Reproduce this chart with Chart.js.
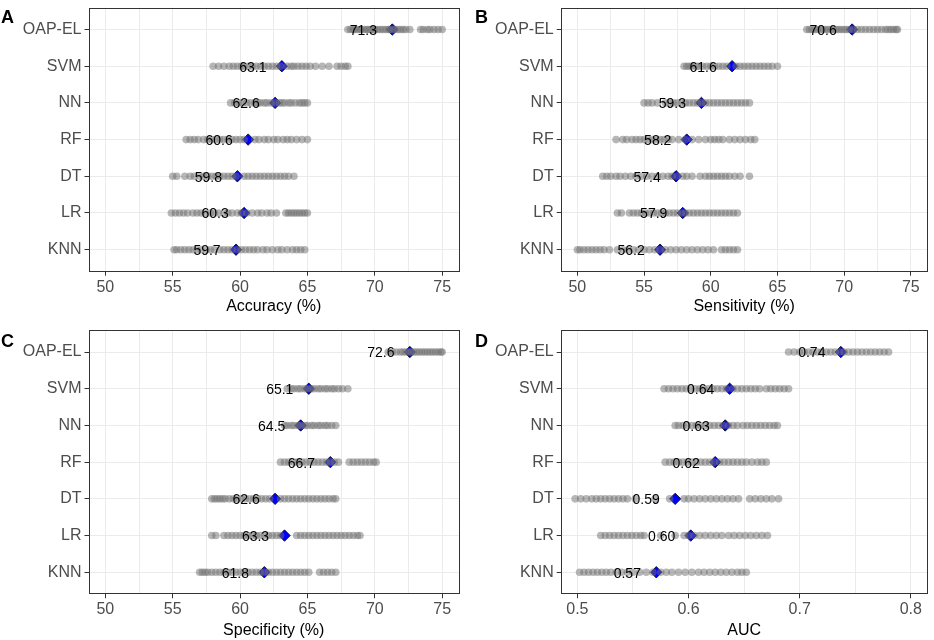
<!DOCTYPE html>
<html>
<head>
<meta charset="utf-8">
<script src="https://cdn.jsdelivr.net/npm/chart.js@4.4.0/dist/chart.umd.min.js"></script>
<style>
    body { margin: 0; background: #fff; }
    #wrap { position: relative; width: 934px; height: 640px; }
    .panel { position: absolute; width: 467px; height: 320px; }
</style>
</head>
<body>
<div id="wrap">
    <div class="panel" style="left:0;top:0"><canvas id="panelA" width="467" height="320"></canvas></div>
    <div class="panel" style="left:467px;top:0"><canvas id="panelB" width="467" height="320"></canvas></div>
    <div class="panel" style="left:0;top:320px"><canvas id="panelC" width="467" height="320"></canvas></div>
    <div class="panel" style="left:467px;top:320px"><canvas id="panelD" width="467" height="320"></canvas></div>
</div>
<script>
'use strict';

// rows top to bottom
const models = ['OAP-EL', 'SVM', 'NN', 'RF', 'DT', 'LR', 'KNN'];

const pctTicks = [50, 52.5, 55, 57.5, 60, 62.5, 65, 67.5, 70, 72.5, 75];
const aucTicks = [0.5, 0.55, 0.6, 0.65, 0.7, 0.75, 0.8];

// repeated-run results, one row per model
const accuracyRuns = [
    [68.0, 68.2, 68.4, 68.5, 68.7, 68.9, 69.0, 69.2, 69.4, 69.5, 69.7, 69.9, 70.0, 70.2, 70.4, 70.6, 70.8, 71.0, 71.1, 71.3, 71.5, 71.7, 71.9, 72.1, 72.3, 72.6, 73.4, 73.6, 73.9, 74.1, 74.4, 74.7, 75.0],
    [58.0, 58.4, 58.8, 59.2, 59.5, 59.8, 60.1, 60.3, 60.6, 60.9, 61.2, 61.5, 61.8, 62.1, 62.4, 62.7, 63.0, 63.5, 63.8, 64.0, 64.3, 64.6, 64.9, 65.2, 65.6, 66.1, 66.6, 67.2, 67.5, 67.8, 68.0],
    [59.3, 59.6, 59.9, 60.2, 60.5, 60.8, 61.1, 61.3, 61.5, 61.8, 62.0, 62.3, 62.6, 62.9, 63.1, 63.3, 63.6, 63.8, 64.1, 64.4, 64.6, 64.8, 65.0],
    [56.0, 56.3, 56.6, 56.9, 57.3, 57.6, 57.9, 58.2, 58.5, 58.8, 59.1, 59.4, 59.7, 60.0, 60.3, 61.1, 61.4, 61.8, 62.1, 62.5, 62.8, 63.2, 63.5, 63.8, 64.2, 64.6, 65.0],
    [55.0, 55.3, 55.9, 56.3, 56.6, 57.0, 57.3, 57.6, 57.9, 58.2, 58.5, 58.8, 59.1, 59.4, 59.7, 60.3, 60.6, 60.9, 61.2, 61.5, 61.8, 62.1, 62.4, 62.7, 63.0, 63.3, 63.6, 64.0],
    [54.9, 55.2, 55.5, 55.8, 56.1, 56.5, 56.8, 57.1, 57.4, 57.8, 58.1, 58.4, 58.8, 59.1, 59.4, 59.8, 60.1, 60.5, 60.9, 61.3, 61.6, 62.0, 62.3, 62.7, 63.4, 63.6, 63.8, 64.0, 64.2, 64.4, 64.6, 64.8, 65.0],
    [55.1, 55.3, 55.6, 55.9, 56.2, 56.5, 56.8, 57.1, 57.5, 57.8, 58.1, 58.5, 58.8, 59.1, 59.4, 59.8, 60.1, 60.4, 60.7, 61.0, 61.3, 61.7, 62.0, 62.4, 62.8, 63.1, 63.5, 63.9, 64.2, 64.5, 64.8]
];
const accuracyMeans = [71.3, 63.1, 62.6, 60.6, 59.8, 60.3, 59.7];

const sensitivityRuns = [
    [67.2, 67.4, 67.6, 67.8, 68.0, 68.2, 68.4, 68.6, 68.8, 69.0, 69.2, 69.4, 69.6, 69.8, 70.0, 70.2, 70.4, 70.7, 71.0, 71.3, 71.6, 71.9, 72.2, 72.5, 72.8, 73.1, 73.3, 73.5, 73.7, 73.9, 74.0],
    [58.0, 58.2, 58.4, 58.6, 58.9, 59.1, 59.4, 59.7, 60.0, 60.3, 60.6, 60.9, 61.2, 61.9, 62.2, 62.5, 62.8, 63.1, 63.4, 63.7, 64.0, 64.3, 64.6, 65.0],
    [55.0, 55.3, 55.6, 56.0, 56.6, 56.9, 57.2, 57.5, 57.8, 58.1, 58.4, 58.7, 59.0, 59.3, 59.6, 59.9, 60.2, 60.5, 60.8, 61.1, 61.4, 61.7, 62.0, 62.3, 62.6, 62.9],
    [52.9, 53.4, 53.7, 54.1, 54.4, 54.7, 55.0, 55.3, 55.6, 55.9, 56.2, 56.5, 56.8, 57.1, 57.6, 58.1, 58.6, 59.1, 59.6, 60.0, 60.3, 60.6, 60.9, 61.4, 61.8, 62.2, 62.6, 63.0, 63.3],
    [51.9, 52.2, 52.5, 52.9, 53.2, 53.6, 54.0, 54.4, 54.8, 55.2, 55.6, 56.0, 56.4, 56.8, 57.1, 57.5, 57.9, 58.2, 58.6, 59.2, 59.6, 59.9, 60.2, 60.5, 60.8, 61.1, 61.4, 61.8, 62.2, 62.9],
    [53.0, 53.3, 53.9, 54.2, 54.5, 54.8, 55.1, 55.4, 55.7, 56.0, 56.3, 56.6, 56.9, 57.2, 57.5, 57.8, 58.1, 58.4, 58.7, 59.0, 59.3, 59.6, 59.9, 60.2, 60.5, 60.8, 61.1, 61.4, 61.7, 62.0],
    [50.0, 50.2, 50.5, 50.8, 51.1, 51.4, 51.7, 52.0, 52.4, 53.0, 53.4, 53.8, 54.2, 54.6, 55.0, 55.4, 55.8, 56.2, 56.6, 57.0, 57.4, 57.8, 58.2, 58.6, 59.0, 59.4, 59.8, 60.2, 60.8, 61.1, 61.4, 61.7, 62.0]
];
const sensitivityMeans = [70.6, 61.6, 59.3, 58.2, 57.4, 57.9, 56.2];

const specificityRuns = [
    [71.0, 71.3, 71.6, 71.9, 72.1, 72.3, 72.5, 72.7, 72.9, 73.1, 73.3, 73.5, 73.7, 73.9, 74.1, 74.3, 74.5, 74.7, 74.9, 75.0],
    [63.5, 63.8, 64.0, 64.3, 64.5, 64.8, 65.0, 65.3, 65.5, 65.8, 66.0, 66.3, 66.5, 66.8, 67.0, 67.3, 67.6, 68.0],
    [63.3, 63.5, 63.8, 64.0, 64.3, 64.5, 64.8, 65.0, 65.3, 65.5, 65.8, 66.0, 66.3, 66.5, 66.8, 67.1],
    [63.0, 63.3, 63.6, 64.0, 64.3, 64.6, 64.9, 65.2, 65.5, 65.8, 66.1, 66.4, 66.7, 67.0, 67.3, 68.1, 68.4, 68.7, 69.0, 69.3, 69.6, 69.9, 70.1],
    [57.9, 58.1, 58.3, 58.5, 58.7, 58.9, 59.2, 59.5, 59.8, 60.1, 60.4, 60.7, 61.0, 61.3, 61.6, 61.9, 62.2, 63.0, 63.3, 63.6, 63.9, 64.2, 64.5, 64.8, 65.1, 65.4, 65.7, 66.0, 66.3, 66.6, 66.9, 67.1],
    [57.9, 58.2, 58.8, 59.1, 59.4, 59.7, 60.0, 60.3, 60.6, 60.9, 61.2, 61.5, 61.8, 62.1, 62.4, 62.7, 63.0, 64.2, 64.5, 64.8, 65.1, 65.4, 65.7, 66.0, 66.3, 66.6, 66.9, 67.2, 67.5, 67.8, 68.1, 68.4, 68.7, 68.9],
    [57.0, 57.2, 57.4, 57.6, 57.9, 58.2, 58.5, 58.8, 59.1, 59.4, 59.7, 60.0, 60.3, 60.6, 60.9, 61.2, 61.5, 61.8, 62.1, 62.4, 62.7, 63.0, 63.3, 63.6, 63.9, 64.2, 64.5, 64.8, 65.1, 65.9, 66.2, 66.5, 66.8, 67.1]
];
const specificityMeans = [72.6, 65.1, 64.5, 66.7, 62.6, 63.3, 61.8];

const aucRuns = [
    [0.690, 0.695, 0.700, 0.704, 0.708, 0.712, 0.716, 0.720, 0.724, 0.728, 0.732, 0.736, 0.740, 0.744, 0.748, 0.752, 0.756, 0.760, 0.764, 0.768, 0.772, 0.776, 0.780],
    [0.578, 0.582, 0.586, 0.590, 0.594, 0.598, 0.602, 0.606, 0.610, 0.614, 0.618, 0.622, 0.626, 0.630, 0.634, 0.640, 0.644, 0.648, 0.652, 0.656, 0.660, 0.664, 0.670, 0.674, 0.678, 0.682, 0.686, 0.690],
    [0.588, 0.591, 0.595, 0.599, 0.603, 0.607, 0.611, 0.615, 0.619, 0.623, 0.627, 0.631, 0.636, 0.640, 0.644, 0.649, 0.653, 0.657, 0.661, 0.665, 0.669, 0.673, 0.677, 0.680],
    [0.579, 0.583, 0.587, 0.591, 0.595, 0.599, 0.603, 0.607, 0.611, 0.615, 0.619, 0.623, 0.628, 0.632, 0.636, 0.640, 0.644, 0.648, 0.652, 0.657, 0.662, 0.666, 0.670],
    [0.498, 0.503, 0.508, 0.513, 0.517, 0.521, 0.525, 0.529, 0.533, 0.537, 0.541, 0.545, 0.552, 0.570, 0.583, 0.596, 0.600, 0.605, 0.610, 0.615, 0.620, 0.625, 0.630, 0.635, 0.640, 0.645, 0.655, 0.660, 0.665, 0.670, 0.675, 0.681],
    [0.521, 0.525, 0.529, 0.533, 0.537, 0.541, 0.545, 0.549, 0.553, 0.557, 0.560, 0.575, 0.588, 0.596, 0.600, 0.605, 0.610, 0.615, 0.620, 0.625, 0.630, 0.636, 0.641, 0.646, 0.651, 0.656, 0.661, 0.666, 0.671],
    [0.502, 0.506, 0.510, 0.514, 0.518, 0.522, 0.526, 0.530, 0.535, 0.540, 0.545, 0.550, 0.556, 0.562, 0.568, 0.575, 0.580, 0.585, 0.591, 0.597, 0.603, 0.609, 0.614, 0.619, 0.624, 0.629, 0.634, 0.639, 0.644, 0.648, 0.652]
];
const aucMeans = [0.737, 0.637, 0.633, 0.624, 0.588, 0.602, 0.571];

const FONT = '"Liberation Sans", Arial, sans-serif';

// frame + panel letter + mean labels
const panelDecor = {
    id: 'panelDecor',
    afterDatasetsDraw: function (chart, args, opts) {
        const ctx = chart.ctx;
        const xs = chart.scales.x, ys = chart.scales.y;
        ctx.save();
        ctx.font = '14px ' + FONT;
        ctx.fillStyle = '#000';
        ctx.textAlign = 'center';
        ctx.textBaseline = 'middle';
        opts.means.forEach(function (m, i) {
            ctx.fillText(m.toFixed(opts.digits), xs.getPixelForValue(m) - 29, ys.getPixelForValue(i + 1) + 1.5);
        });
        ctx.restore();
    },
    afterDraw: function (chart, args, opts) {
        const ctx = chart.ctx;
        const a = chart.chartArea;
        ctx.save();
        ctx.strokeStyle = '#333333';
        ctx.lineWidth = 1;
        ctx.strokeRect(Math.round(a.left) + 0.5, Math.round(a.top) + 0.5,
            Math.round(a.right - a.left) - 1, Math.round(a.bottom - a.top) - 1);
        ctx.font = 'bold 18px ' + FONT;
        ctx.fillStyle = '#000';
        ctx.textAlign = 'left';
        ctx.textBaseline = 'alphabetic';
        ctx.fillText(opts.letter, opts.letterX, opts.letterY);
        ctx.restore();
    }
};

function drawPanel(id, cfg) {
    const ctx = document.getElementById(id).getContext('2d');
    const isMajor = v => cfg.majors.some(t => Math.abs(t - v) < 1e-9);

    new Chart(ctx, {
        type: 'scatter',
        data: {
            datasets: [{
                data: cfg.runs.flatMap((row, i) => row.map(v => ({x: v, y: i + 1}))),
                pointRadius: 3.8,
                backgroundColor: 'rgba(112, 112, 112, 0.5)',
                borderWidth: 0,
            }, {
                data: cfg.means.map((m, i) => ({x: m, y: i + 1})),
                pointStyle: 'rectRot',
                pointRadius: 5.7,
                backgroundColor: '#0000FF',
                borderColor: '#000000',
                borderWidth: 0.8,
            }]
        },
        options: {
            responsive: false,
            animation: false,
            events: [],
            layout: {
                padding: {left: 0, right: cfg.padRight, top: cfg.padTop, bottom: 0}
            },
            plugins: {
                legend: {display: false},
                tooltip: {enabled: false},
                panelDecor: {
                    means: cfg.means,
                    digits: cfg.digits,
                    letter: cfg.letter,
                    letterX: cfg.letterX,
                    letterY: cfg.letterY
                }
            },
            scales: {
                x: {
                    type: 'linear',
                    min: cfg.min,
                    max: cfg.max,
                    afterBuildTicks: s => { s.ticks = cfg.ticks.map(v => ({value: v})); },
                    afterFit: s => {
                        s.height = cfg.xHeight;
                        s.paddingLeft = 0;
                        s.paddingRight = 0;
                    },
                    border: {display: false},
                    grid: {
                        color: '#EBEBEB',
                        lineWidth: 1,
                        tickLength: 4,
                        tickColor: c => isMajor(c.tick.value) ? '#333333' : 'rgba(0,0,0,0)'
                    },
                    ticks: {
                        autoSkip: false,
                        maxRotation: 0,
                        padding: 2,
                        color: '#4D4D4D',
                        font: {family: FONT, size: 16},
                        callback: v => isMajor(v) ? cfg.fmt(v) : ''
                    },
                    title: {
                        display: true,
                        text: cfg.title,
                        color: '#000',
                        font: {family: FONT, size: 16},
                        padding: {top: 0, bottom: cfg.titlePad}
                    }
                },
                y: {
                    type: 'linear',
                    reverse: true,
                    min: 0.4,
                    max: 7.6,
                    afterBuildTicks: s => { s.ticks = models.map((m, i) => ({value: i + 1})); },
                    afterFit: s => {
                        s.width = cfg.yWidth;
                        s.paddingTop = 0;
                        s.paddingBottom = 0;
                    },
                    border: {display: false},
                    grid: {
                        color: '#EBEBEB',
                        lineWidth: 1,
                        tickLength: 4,
                        tickColor: '#333333'
                    },
                    ticks: {
                        autoSkip: false,
                        padding: 3,
                        color: '#4D4D4D',
                        font: {family: FONT, size: 16},
                        callback: v => models[Math.round(v) - 1]
                    }
                }
            }
        },
        plugins: [panelDecor]
    });
}

const pctFmt = v => String(v);
const aucFmt = v => v.toFixed(1);

drawPanel('panelA', {
    runs: accuracyRuns, means: accuracyMeans, digits: 1, title: 'Accuracy (%)',
    min: 48.75, max: 76.25, ticks: pctTicks, majors: [50, 55, 60, 65, 70, 75], fmt: pctFmt,
    letter: 'A', letterX: 1, letterY: 23, padTop: 7.5, padRight: 8, yWidth: 88.5, xHeight: 48.3, titlePad: 4
});
drawPanel('panelB', {
    runs: sensitivityRuns, means: sensitivityMeans, digits: 1, title: 'Sensitivity (%)',
    min: 48.75, max: 76.25, ticks: pctTicks, majors: [50, 55, 60, 65, 70, 75], fmt: pctFmt,
    letter: 'B', letterX: 8, letterY: 23, padTop: 7.5, padRight: 3, yWidth: 93.7, xHeight: 48.3, titlePad: 4
});
drawPanel('panelC', {
    runs: specificityRuns, means: specificityMeans, digits: 1, title: 'Specificity (%)',
    min: 48.75, max: 76.25, ticks: pctTicks, majors: [50, 55, 60, 65, 70, 75], fmt: pctFmt,
    letter: 'C', letterX: 1, letterY: 27, padTop: 10, padRight: 8, yWidth: 88.5, xHeight: 45.7, titlePad: 0
});
drawPanel('panelD', {
    runs: aucRuns, means: aucMeans, digits: 2, title: 'AUC',
    min: 0.485, max: 0.815, ticks: aucTicks, majors: [0.5, 0.6, 0.7, 0.8], fmt: aucFmt,
    letter: 'D', letterX: 8, letterY: 27, padTop: 10, padRight: 3, yWidth: 93.7, xHeight: 45.7, titlePad: 0
});
</script>
</body>
</html>
